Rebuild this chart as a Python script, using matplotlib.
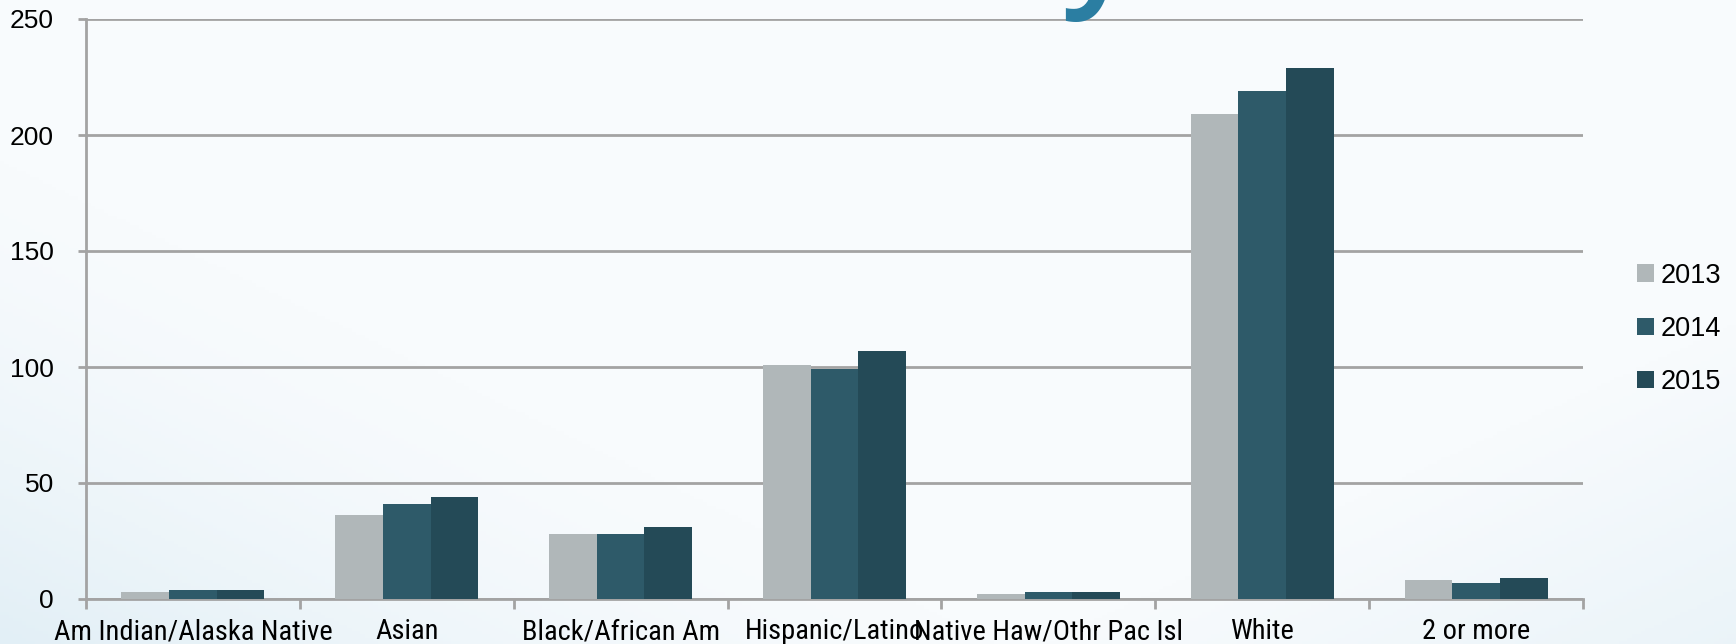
#!/usr/bin/env python3

# Enrollment by race/ethnicity, three years side by side

import numpy as np
import matplotlib.pyplot as plt
from matplotlib.colors import LinearSegmentedColormap

categories = ['Am Indian/Alaska Native', 'Asian', 'Black/African Am', 'Hispanic/Latino',
              'Native Haw/Othr Pac Isl', 'White', '2 or more']
years = ['2013', '2014', '2015']
vals_2013 = [3, 36, 28, 101, 2, 209, 8]
vals_2014 = [4, 41, 28, 99, 3, 219, 7]
vals_2015 = [4, 44, 31, 107, 3, 229, 9]
colors = ['#b0b7b9', '#2e5a69', '#244a57']

plt.rcParams['font.family'] = ['Liberation Sans', 'DejaVu Sans']

fig = plt.figure(figsize=(17.36, 6.44), dpi=100)
fig.patch.set_facecolor('#f7fbfd')

# pale blue wash, strongest in the lower corners
bg = fig.add_axes([0, 0, 1, 1], zorder=-10)
yy, xx = np.mgrid[0:1:200j, 0:1:400j]
left = np.clip(1.0 - (xx * 1.7 + yy * 1.3), 0, 1) ** 1.5
right = np.clip(1.0 - ((1 - xx) * 2.5 + yy * 2.0), 0, 1) * 0.6
wash = np.maximum(left, right)
bg.imshow(wash, cmap=LinearSegmentedColormap.from_list('w', ['#f8fbfd', '#e2eff6']),
          extent=[0, 1, 0, 1], aspect='auto', origin='lower', vmin=0, vmax=1)
bg.axis('off')

ax = fig.add_axes([86 / 1736, 45 / 644, (1583 - 86) / 1736, (599 - 19) / 644])
ax.set_facecolor('none')

x = np.arange(len(categories))
w = 0.223
for i, (vals, yr) in enumerate(zip([vals_2013, vals_2014, vals_2015], years)):
    ax.bar(x + (i - 1) * w, vals, w, color=colors[i], label=yr, zorder=3)

ax.set_xlim(-0.5, len(categories) - 0.5)
ax.set_ylim(0, 250)
ax.set_yticks(range(0, 251, 50))
ax.yaxis.grid(True, color='#a3a3a3', linewidth=2, zorder=0)
ax.set_xticks(np.arange(-0.5, len(categories), 1.0))
ax.set_xticklabels([])
ax.set_xticks(x, minor=True)
ax.set_xticklabels(categories, minor=True, fontsize=20.5, family=['Roboto Condensed', 'Liberation Sans'])
ax.tick_params(axis='x', which='major', length=7, width=2, color='#a3a3a3')
ax.tick_params(axis='x', which='minor', length=0, pad=14)
ax.tick_params(axis='y', length=6, width=2, color='#a3a3a3', labelsize=19, pad=17)

for s in ['top', 'right']:
    ax.spines[s].set_visible(False)
for s in ['left', 'bottom']:
    ax.spines[s].set_color('#a3a3a3')
    ax.spines[s].set_linewidth(2)

ax.legend(loc='center left', bbox_to_anchor=(1.02, 0.466), frameon=False, fontsize=19.5,
          handlelength=0.6, handleheight=0.6, handletextpad=0.25, labelspacing=1.0)

# tail of the slide heading peeking in at the top
fig.text(1099 / 1736, 1.0 + 12 / 644, 'y', fontsize=100, color='#2b7ea2',
         ha='center', va='baseline', family='Open Sans', weight='semibold')

fig.savefig('out.png', dpi=100, facecolor=fig.get_facecolor())
